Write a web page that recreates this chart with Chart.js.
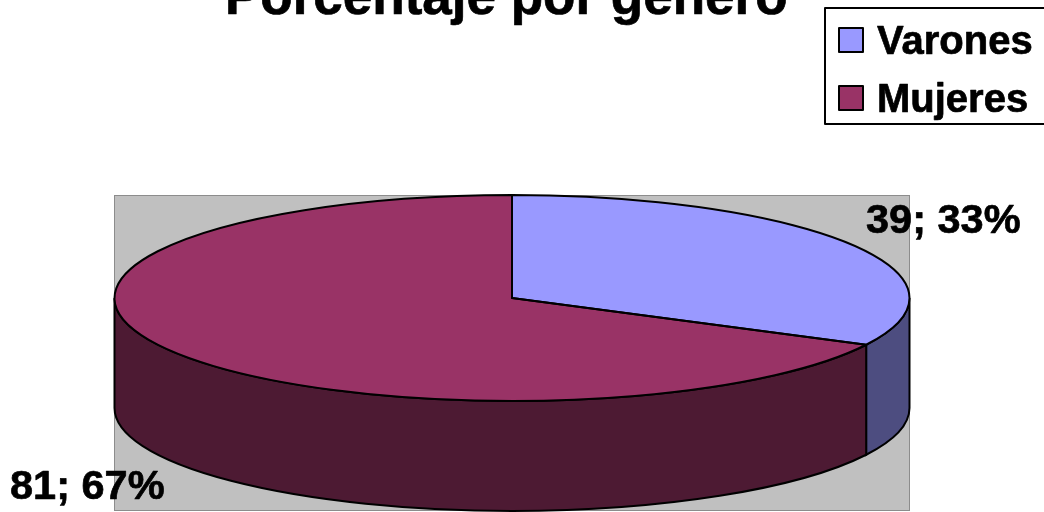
<!DOCTYPE html>
<html>
<head>
<meta charset="utf-8">
<style>
  html, body { margin: 0; padding: 0; background: #fff; overflow: hidden; }
  #wrap { width: 1044px; height: 512px; }
</style>
<script src="https://cdn.jsdelivr.net/npm/chart.js@4/dist/chart.umd.min.js"></script>
</head>
<body>
<div id="wrap"><canvas id="grafico" width="1044" height="512"></canvas></div>
<script>
// Datos
const tituloGrafico = 'Porcentaje por género';
const categorias = ['Varones', 'Mujeres'];
const valores = [39, 81];
const porcentajes = [33, 67];
const coloresCara = ['#9999ff', '#993366'];
const coloresLado = ['#4d4d80', '#4d1a33'];

// Medidas del pastel en perspectiva
const radioPastel = 397.5;
const aplastado = 103 / 397.5;
const profundidad = 110;
const fuente = '"Liberation Sans", Arial, sans-serif';

function caraLateral(ctx, arco, color) {
    const a0 = Math.max(arco.startAngle, 0);
    const a1 = Math.min(arco.endAngle, Math.PI);
    if (a1 <= a0) return;
    const r = arco.outerRadius;
    ctx.beginPath();
    ctx.ellipse(arco.x, arco.y, r, r * aplastado, 0, a0, a1);
    ctx.ellipse(arco.x, arco.y + profundidad, r, r * aplastado, 0, a1, a0, true);
    ctx.closePath();
    ctx.fillStyle = color;
    ctx.fill();
    ctx.lineWidth = 2;
    ctx.strokeStyle = '#000';
    ctx.stroke();
}

// Contorno de cada porcion sin deformar el grosor de la linea
function contornoCara(ctx, arco) {
    const r = arco.outerRadius;
    ctx.beginPath();
    ctx.moveTo(arco.x, arco.y);
    ctx.ellipse(arco.x, arco.y, r, r * aplastado, 0, arco.startAngle, arco.endAngle);
    ctx.closePath();
    ctx.lineWidth = 2;
    ctx.lineJoin = 'round';
    ctx.strokeStyle = '#000';
    ctx.stroke();
}

// Texto con un trazo fino para que pese como el original
function textoGrueso(ctx, texto, x, y) {
    ctx.fillText(texto, x, y);
    ctx.strokeText(texto, x, y);
}

const pastel3d = {
    id: 'pastel3d',
    beforeDraw(chart) {
        // fondo gris del area de trazado
        const ctx = chart.ctx;
        ctx.save();
        ctx.fillStyle = '#c0c0c0';
        ctx.strokeStyle = '#8c8c8c';
        ctx.lineWidth = 1;
        ctx.fillRect(114.5, 195.5, 795, 315);
        ctx.strokeRect(114.5, 195.5, 795, 315);
        ctx.restore();
    },
    beforeDatasetsDraw(chart) {
        const ctx = chart.ctx;
        const arcos = chart.getDatasetMeta(0).data;
        ctx.save();
        arcos.forEach((arco, i) => caraLateral(ctx, arco, coloresLado[i]));
        ctx.restore();
        const cy = arcos[0].y;
        ctx.save();
        ctx.translate(0, cy);
        ctx.scale(1, aplastado);
        ctx.translate(0, -cy);
    },
    afterDatasetsDraw(chart) {
        const ctx = chart.ctx;
        ctx.restore();
        ctx.save();
        chart.getDatasetMeta(0).data.forEach(arco => contornoCara(ctx, arco));
        ctx.restore();
    },
    afterDraw(chart) {
        const ctx = chart.ctx;
        ctx.save();
        ctx.fillStyle = '#000';
        ctx.textBaseline = 'alphabetic';
        ctx.textAlign = 'left';
        ctx.lineJoin = 'round';

        // titulo, cortado por arriba igual que el original
        ctx.strokeStyle = '#000';
        ctx.lineWidth = 0.7;
        ctx.font = 'bold 53px ' + fuente;
        textoGrueso(ctx, tituloGrafico, 225, 14);

        // leyenda
        ctx.lineWidth = 2;
        ctx.fillStyle = '#fff';
        ctx.fillRect(825, 8, 230, 116);
        ctx.strokeRect(825, 8, 230, 116);
        ctx.font = 'bold 40px ' + fuente;
        categorias.forEach((nombre, i) => {
            const y = 28 + i * 58;
            ctx.lineWidth = 2;
            ctx.fillStyle = coloresCara[i];
            ctx.fillRect(839, y, 24, 24);
            ctx.strokeRect(839, y, 24, 24);
            ctx.fillStyle = '#000';
            ctx.lineWidth = 0.7;
            textoGrueso(ctx, nombre, 877, 53.5 + i * 58);
        });

        // etiquetas de datos
        ctx.font = 'bold 41.5px ' + fuente;
        textoGrueso(ctx, valores[0] + '; ' + porcentajes[0] + '%', 866, 233);
        textoGrueso(ctx, valores[1] + '; ' + porcentajes[1] + '%', 10, 498.5);
        ctx.restore();
    }
};

new Chart(document.getElementById('grafico'), {
    type: 'pie',
    data: {
        labels: categorias,
        datasets: [{
            data: valores,
            backgroundColor: coloresCara,
            borderColor: '#000',
            borderWidth: 0,
            radius: radioPastel,
            clip: false
        }]
    },
    options: {
        responsive: false,
        animation: false,
        layout: { padding: { left: 0, right: 20, top: 84, bottom: 0 } },
        plugins: {
            legend: { display: false },
            title: { display: false },
            tooltip: { enabled: false }
        }
    },
    plugins: [pastel3d]
});
</script>
</body>
</html>
